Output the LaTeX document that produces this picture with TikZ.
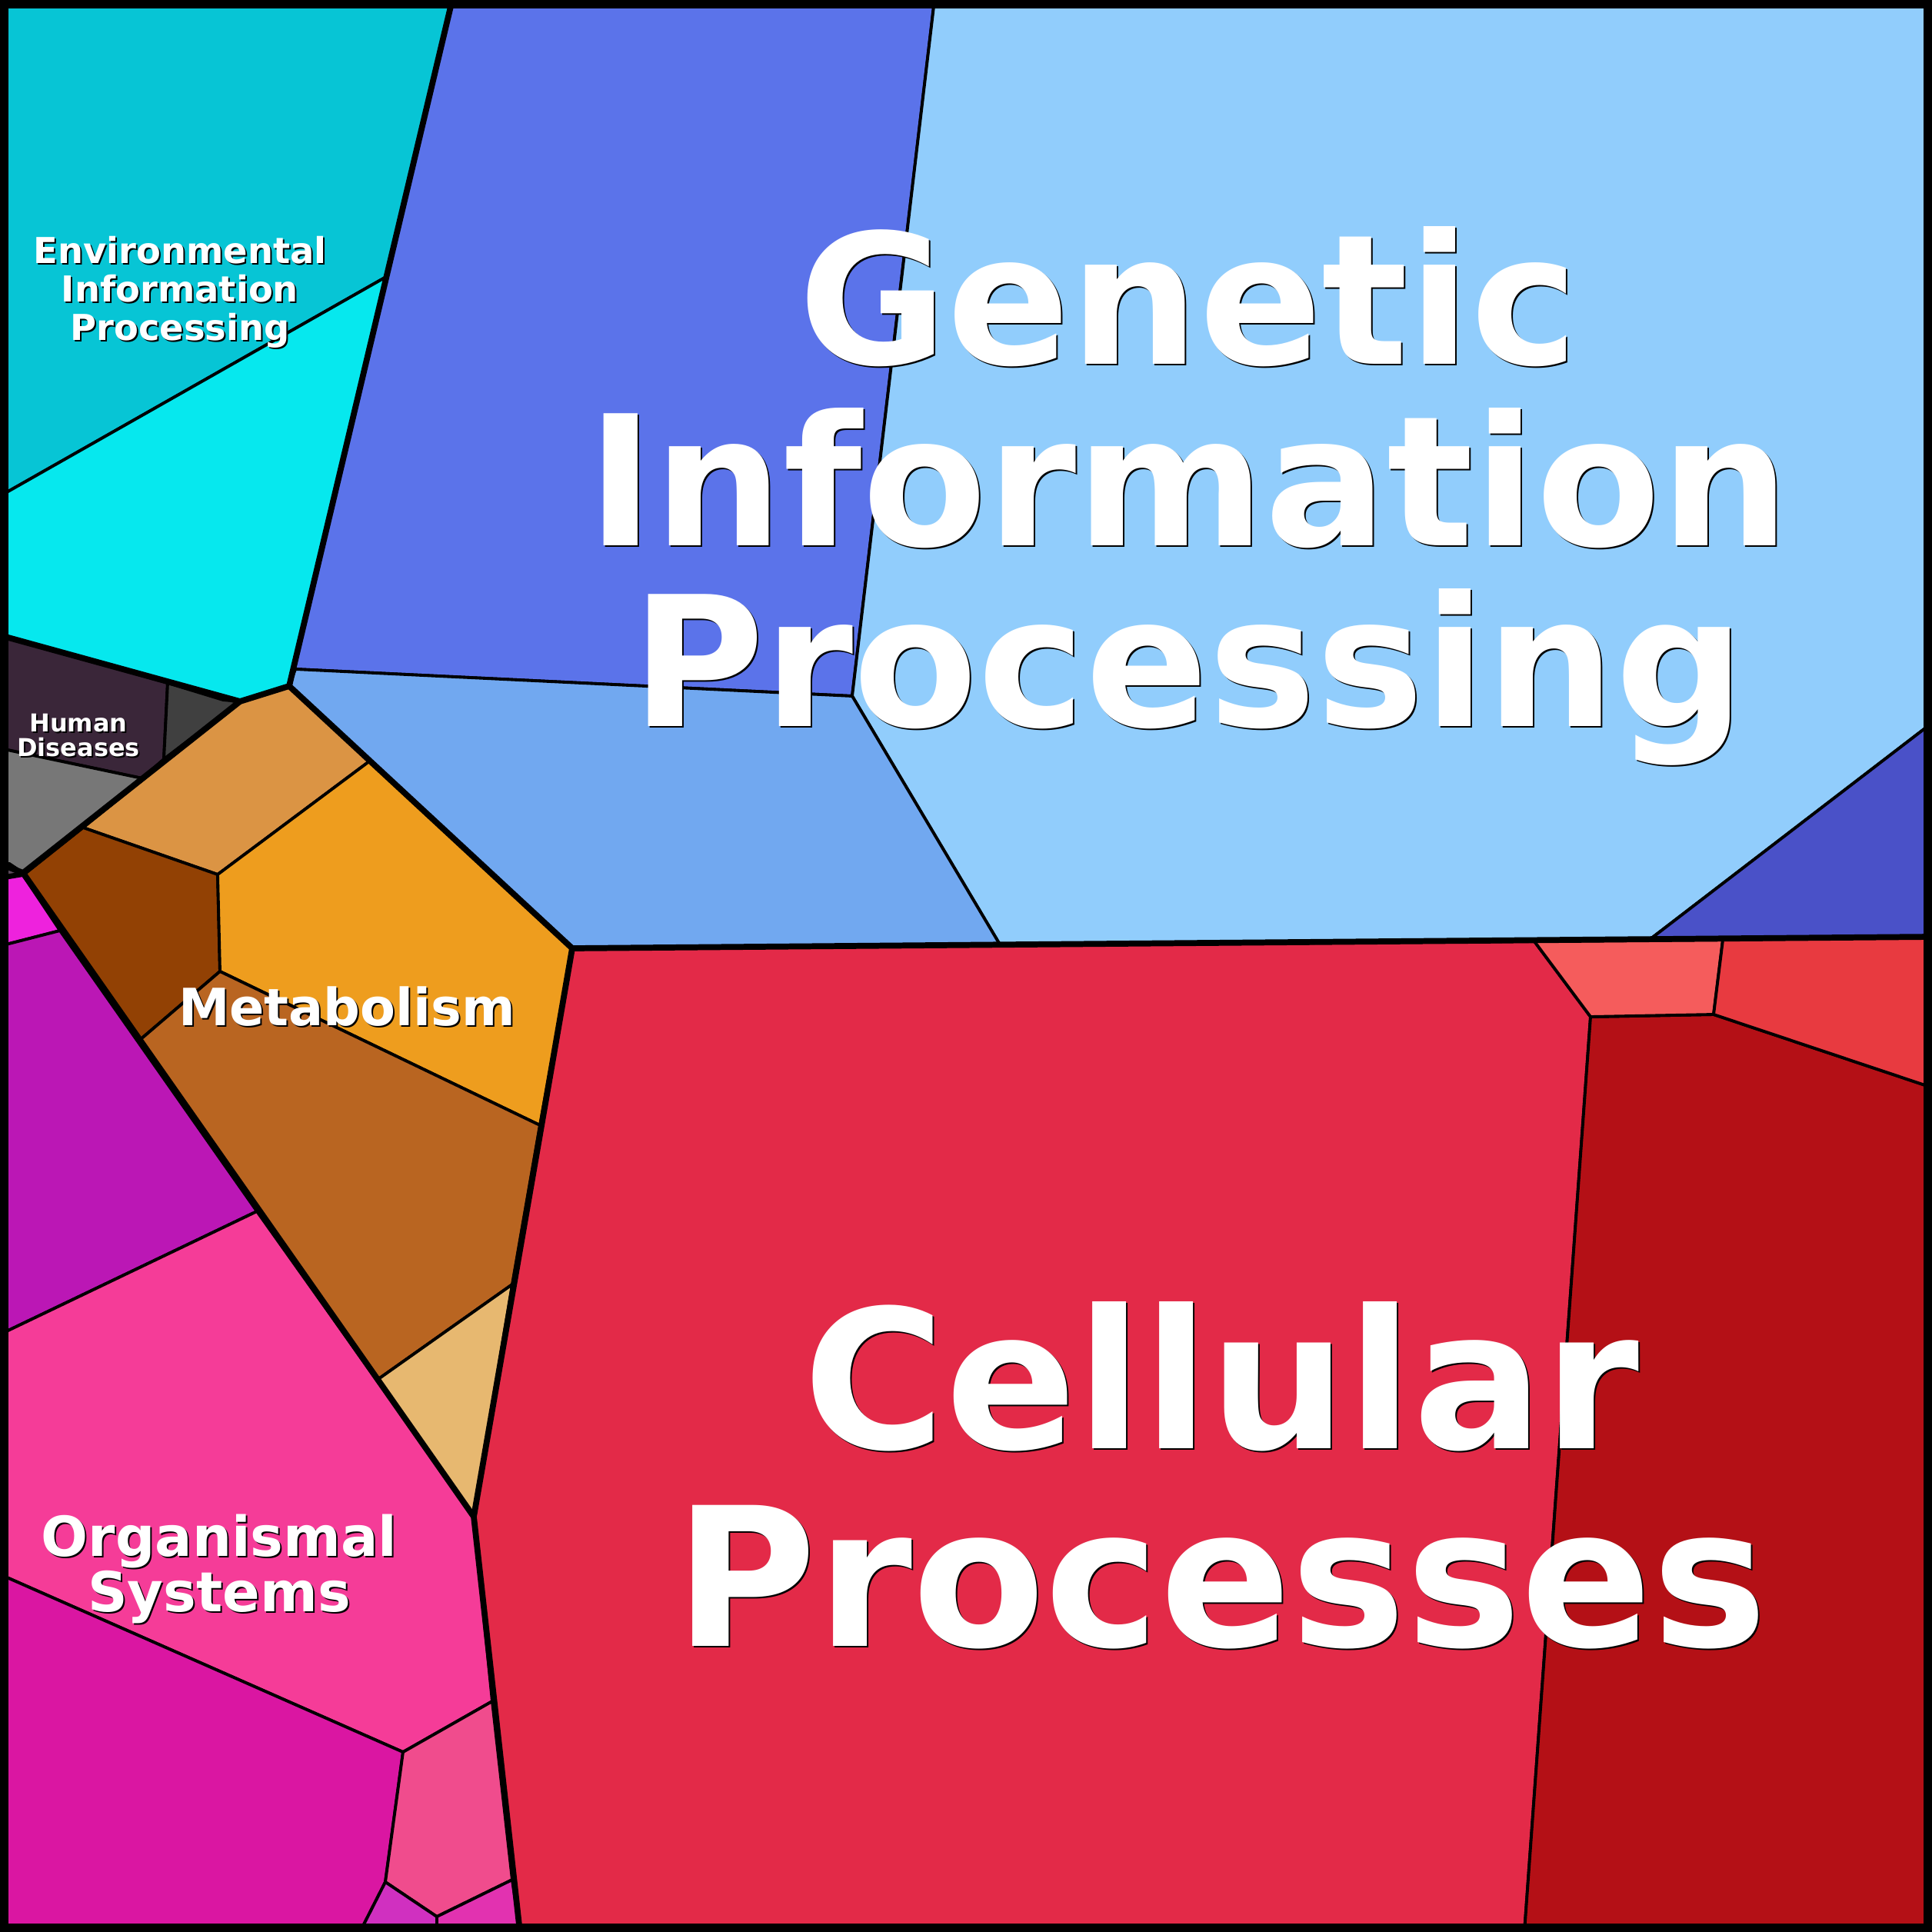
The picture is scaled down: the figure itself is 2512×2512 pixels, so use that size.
\documentclass[tikz,border=0pt]{standalone}
\usepackage{fontspec}
\setmainfont{DejaVu Sans}
\usetikzlibrary{positioning}
\definecolor{envA}{HTML}{07C5D5}
\definecolor{envB}{HTML}{06E8EE}
\definecolor{genA}{HTML}{5B73EA}
\definecolor{genB}{HTML}{91CDFC}
\definecolor{genC}{HTML}{71A8F0}
\definecolor{genD}{HTML}{4A51C8}
\definecolor{humA}{HTML}{3A2639}
\definecolor{humB}{HTML}{404040}
\definecolor{humC}{HTML}{777777}
\definecolor{humD}{HTML}{5A4A5A}
\definecolor{metA}{HTML}{DB9444}
\definecolor{metB}{HTML}{924104}
\definecolor{metC}{HTML}{EE9D1E}
\definecolor{metD}{HTML}{B96521}
\definecolor{metE}{HTML}{E7B870}
\definecolor{orgA}{HTML}{EE22DD}
\definecolor{orgB}{HTML}{BB17B5}
\definecolor{orgC}{HTML}{F53C98}
\definecolor{orgD}{HTML}{DA16A2}
\definecolor{orgE}{HTML}{F04C8D}
\definecolor{orgF}{HTML}{D030C0}
\definecolor{orgG}{HTML}{E232B0}
\definecolor{celA}{HTML}{E32A48}
\definecolor{celB}{HTML}{B41016}
\definecolor{celC}{HTML}{F55C5C}
\definecolor{celD}{HTML}{E83A40}
\tikzset{cell/.style={fill=#1, draw=black, line width=1.1pt, line join=round},
%top level borders
border/.style={draw=black, line width=2.2pt, line join=round},
lbl/.style={text=white, align=center}}
\newcommand{\lbltext}[5]{%
  \node[lbl, text=black, xshift=0.02cm, yshift=-0.02cm, font=\bfseries\fontsize{#3}{#4}\selectfont] at (#1) {#5};
  \node[lbl, font=\bfseries\fontsize{#3}{#4}\selectfont] (#2) at (#1) {#5};}

\begin{document}
\begin{tikzpicture}[x=0.01cm, y=-0.01cm]
\useasboundingbox (0,0) rectangle (2512,2512);

% genetic
\path[cell=genA] (588,0) -- (1215,0) -- (1108,905) -- (384,870) -- (376,892) -- cycle;
\path[cell=genB] (1215,0) -- (2512,0) -- (2512,940) -- (2147,1220) -- (1300,1228) -- (1108,905) -- cycle;
\path[cell=genC] (384,870) -- (1108,905) -- (1300,1228) -- (744,1233) -- (376,892) -- cycle;
\path[cell=genD] (2512,940) -- (2512,1218) -- (2147,1220) -- cycle;
% environmental
\path[cell=envA] (0,0) -- (588,0) -- (502,360) -- (0,645) -- cycle;
\path[cell=envB] (0,645) -- (502,360) -- (376,892) -- (312,912) -- (0,826) -- cycle;
% human
\path[cell=humA] (0,826) -- (218,888) -- (213,987) -- (185,1012) -- (0,973) -- cycle;
\path[cell=humB] (218,888) -- (290,910) -- (312,912) -- (213,987) -- cycle;
\path[cell=humC] (0,973) -- (185,1012) -- (30,1135) -- (12,1123) -- (0,1123) -- cycle;
\path[cell=humD] (0,1123) -- (12,1123) -- (30,1135) -- (0,1140) -- cycle;
% metabolism
\path[cell=metA] (312,912) -- (376,892) -- (480,990) -- (283,1137) -- (108,1076) -- cycle;
\path[cell=metB] (108,1076) -- (283,1137) -- (286,1263) -- (182,1352) -- (30,1138) -- cycle;
\path[cell=metC] (480,990) -- (744,1233) -- (702,1463) -- (286,1263) -- (283,1137) -- cycle;
\path[cell=metD] (182,1352) -- (286,1263) -- (702,1463) -- (666,1670) -- (492,1793) -- cycle;
\path[cell=metE] (492,1793) -- (666,1670) -- (616,1972) -- cycle;
% organismal
\path[cell=orgA] (0,1143) -- (30,1138) -- (78,1210) -- (0,1230) -- cycle;
\path[cell=orgB] (0,1230) -- (78,1210) -- (334,1575) -- (0,1735) -- cycle;
\path[cell=orgC] (0,1735) -- (334,1575) -- (616,1972) -- (640,2212) -- (524,2278) -- (0,2047) -- cycle;
\path[cell=orgD] (0,2047) -- (524,2278) -- (501,2447) -- (468,2512) -- (0,2512) -- cycle;
\path[cell=orgE] (524,2278) -- (640,2212) -- (666,2444) -- (568,2492) -- (501,2447) -- cycle;
\path[cell=orgF] (501,2447) -- (568,2492) -- (568,2512) -- (468,2512) -- cycle;
\path[cell=orgG] (568,2492) -- (666,2444) -- (676,2512) -- (568,2512) -- cycle;
% cellular
\path[cell=celA] (744,1233) -- (1995,1224) -- (2068,1322) -- (1982,2512) -- (676,2512) -- (616,1972) -- cycle;
\path[cell=celB] (2068,1322) -- (2228,1319) -- (2512,1414) -- (2512,2512) -- (1982,2512) -- cycle;
\path[cell=celC] (1995,1224) -- (2240,1222) -- (2228,1319) -- (2068,1322) -- cycle;
\path[cell=celD] (2240,1222) -- (2512,1218) -- (2512,1414) -- (2228,1319) -- cycle;

% top level borders
\path[border] (588,0) -- (376,892) -- (312,912) -- (0,826);
\path[border] (312,912) -- (30,1135) -- (0,1123);
\path[border] (30,1135) -- (616,1972) -- (676,2512);
\path[border] (376,892) -- (744,1233) -- (2512,1218);
\path[border] (744,1233) -- (616,1972);
\draw[line width=6.5pt] (0,0) rectangle (2512,2512);

% labels
\lbltext{1545,645}{genetic}{67}{67}{Genetic\\Information\\Processing}
\lbltext{1588,1918}{cellular}{71.5}{73}{Cellular\\Processes}
\lbltext{234,380}{environ}{13.2}{14.3}{Environmental\\Information\\Processing}
\lbltext{102,956}{human}{9.1}{9.1}{Human\\Diseases}
\lbltext{451,1309}{metab}{19}{20}{Metabolism}
\lbltext{285,2040}{organ}{20.4}{20.5}{Organismal\\Systems}
\end{tikzpicture}
\end{document}
